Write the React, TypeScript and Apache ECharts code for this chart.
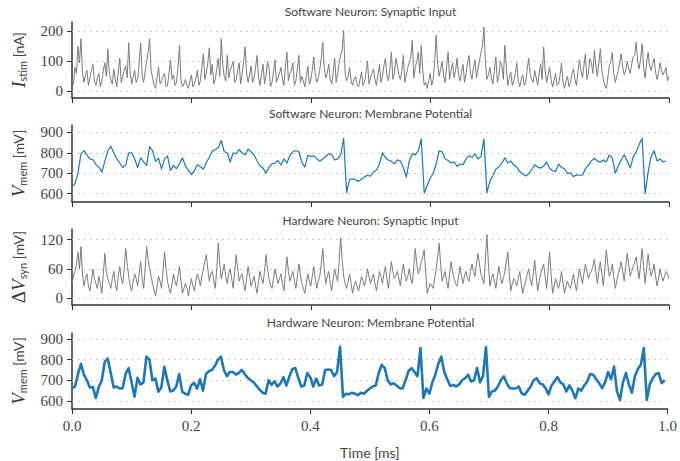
import React, { useEffect, useRef } from 'react';
import * as echarts from 'echarts';

const TIME_STEP = 0.005; // ms between samples (mid arrays sit half a step later)

const titles = [
  'Software Neuron: Synaptic Input',
  'Software Neuron: Membrane Potential',
  'Hardware Neuron: Synaptic Input',
  'Hardware Neuron: Membrane Potential',
];

const stimTicks = [0, 100, 200];
const vmemTicks = [600, 700, 800, 900];
const synTicks = [0, 60, 120];

// Software neuron synaptic input current [nA]
const swInput = [
  40, 80, 150, 175, 30, 70, 45, 90, 20, 60, 35, 95, 142, 40, 75, 15, 110, 50, 85, 162,
  25, 70, 40, 162, 30, 100, 175, 45, 10, 80, 35, 60, 20, 105, 55, 30, 153, 15, 40, 10,
  55, 25, 70, 35, 125, 60, 145, 90, 40, 110, 175, 50, 120, 70, 100, 40, 95, 60, 148, 30,
  85, 45, 120, 20, 90, 55, 75, 30, 105, 45, 80, 20, 130, 60, 95, 35, 120, 50, 15, 85,
  40, 115, 30, 70, 164, 45, 90, 25, 110, 60, 120, 203, 35, 80, 20, 50, 15, 65, 30, 100,
  45, 75, 20, 90, 50, 110, 35, 130, 60, 85, 40, 120, 55, 95, 170, 80, 130, 153, 20, 10,
  60, 40, 187, 50, 100, 30, 130, 70, 45, 110, 35, 90, 60, 120, 40, 105, 75, 130, 214, 40,
  80, 25, 115, 50, 85, 153, 20, 65, 35, 95, 15, 55, 30, 110, 40, 70, 20, 90, 148, 30,
  80, 15, 60, 25, 95, 10, 50, 30, 75, 20, 105, 45, 125, 60, 95, 137, 50, 142, 40, 10,
  85, 130, 30, 70, 125, 55, 100, 60, 115, 164, 75, 159, 45, 130, 70, 110, 40, 95, 55, 80,
  50,
];
const swInputMid = [
  25, 60, 95, 60, 55, 20, 70, 35, 45, 15, 70, 50, 60, 25, 40, 65, 30, 70, 45, 60,
  50, 30, 95, 55, 65, 130, 70, 20, 45, 25, 50, 15, 60, 40, 20, 80, 40, 25, 20, 35,
  15, 45, 20, 80, 40, 95, 55, 25, 75, 50, 90, 35, 45, 85, 30, 70, 25, 100, 60, 55,
  30, 80, 45, 60, 25, 100, 15, 65, 30, 60, 40, 85, 35, 70, 20, 75, 30, 35, 50, 25,
  70, 55, 45, 110, 80, 60, 40, 65, 30, 95, 140, 60, 50, 35, 40, 25, 40, 20, 60, 25,
  60, 40, 55, 30, 85, 55, 75, 40, 110, 55, 70, 30, 80, 115, 45, 100, 60, 70, 30, 35,
  20, 100, 90, 75, 50, 85, 40, 95, 70, 55, 65, 30, 95, 60, 80, 45, 100, 150, 95, 55,
  45, 70, 30, 100, 40, 80, 45, 20, 60, 35, 40, 20, 75, 55, 30, 45, 60, 40, 70, 55,
  40, 35, 20, 55, 30, 35, 15, 60, 40, 65, 70, 85, 40, 110, 60, 85, 95, 70, 20, 45,
  100, 60, 50, 95, 80, 70, 75, 90, 120, 100, 110, 80, 95, 85, 90, 65, 60, 70, 65, 35,
];

// Software neuron membrane potential [mV]
const swVmem = [
  633, 649, 700, 795, 811, 790, 770, 766, 743, 731, 705, 758, 810, 831, 800, 770, 750, 728, 740, 800,
  800, 770, 728, 775, 755, 738, 830, 810, 758, 773, 720, 770, 785, 714, 738, 722, 746, 775, 735, 714,
  694, 712, 741, 732, 720, 752, 778, 808, 816, 825, 860, 805, 800, 755, 800, 795, 815, 800, 790, 818,
  805, 790, 760, 735, 725, 700, 730, 746, 750, 762, 740, 770, 750, 787, 805, 811, 805, 754, 730, 787,
  782, 785, 770, 760, 770, 782, 795, 790, 765, 770, 790, 871, 605, 670, 672, 668, 660, 672, 682, 690,
  685, 706, 716, 745, 800, 775, 765, 758, 746, 765, 760, 728, 681, 760, 795, 790, 810, 868, 603, 640,
  675, 700, 745, 810, 805, 770, 762, 750, 756, 733, 745, 742, 770, 785, 778, 795, 770, 780, 868, 605,
  660, 689, 720, 730, 750, 775, 750, 760, 740, 730, 708, 697, 686, 697, 718, 741, 730, 725, 735, 755,
  725, 712, 708, 744, 728, 722, 698, 702, 683, 692, 690, 690, 722, 738, 760, 773, 760, 754, 765, 755,
  790, 775, 700, 735, 765, 790, 760, 725, 780, 805, 840, 871, 600, 705, 780, 810, 760, 770, 755, 760,
];

// Hardware neuron synaptic input [mV]
const hwInput = [
  30, 55, 95, 106, 25, 50, 15, 60, 30, 45, 10, 92, 40, 20, 55, 15, 65, 30, 102, 45,
  15, 50, 25, 75, 20, 106, 60, 30, 5, 45, 20, 95, 35, 10, 50, 25, 65, 10, 30, 5,
  40, 15, 50, 25, 60, 89, 35, 55, 20, 113, 40, 70, 30, 60, 20, 89, 35, 50, 15, 65,
  25, 45, 10, 55, 30, 89, 40, 20, 60, 30, 50, 15, 85, 35, 55, 20, 70, 30, 10, 50,
  25, 65, 20, 45, 102, 30, 55, 15, 60, 35, 124, 45, 20, 50, 10, 35, 15, 45, 25, 60,
  30, 50, 15, 55, 30, 65, 20, 75, 40, 55, 25, 70, 35, 60, 30, 102, 50, 75, 99, 10,
  30, 20, 60, 113, 35, 55, 20, 75, 40, 25, 65, 30, 55, 35, 70, 45, 92, 50, 30, 131,
  25, 50, 20, 65, 30, 55, 95, 15, 40, 25, 55, 10, 35, 60, 25, 78, 15, 50, 70, 20,
  95, 10, 40, 20, 55, 10, 35, 20, 50, 15, 60, 30, 70, 40, 55, 80, 30, 75, 25, 99,
  45, 70, 20, 50, 75, 35, 92, 45, 65, 85, 40, 102, 30, 90, 45, 70, 25, 60, 35, 55,
  40,
];
const hwInputMid = [
  45, 70, 60, 50, 40, 25, 35, 40, 20, 30, 50, 55, 30, 40, 30, 45, 40, 60, 70, 25,
  35, 40, 50, 40, 60, 80, 45, 15, 25, 35, 55, 60, 20, 30, 35, 45, 35, 20, 20, 25,
  25, 35, 40, 45, 75, 60, 50, 35, 60, 70, 55, 45, 50, 40, 55, 60, 45, 30, 40, 45,
  35, 25, 35, 40, 55, 60, 25, 40, 45, 40, 30, 50, 55, 45, 35, 45, 50, 20, 30, 35,
  45, 40, 35, 70, 60, 45, 30, 40, 45, 75, 80, 30, 35, 30, 25, 25, 30, 35, 40, 45,
  40, 30, 35, 45, 50, 40, 50, 55, 45, 40, 50, 50, 45, 40, 65, 70, 60, 85, 50, 20,
  25, 40, 85, 70, 45, 35, 50, 55, 30, 45, 45, 45, 40, 55, 55, 70, 70, 40, 80, 70,
  40, 35, 45, 45, 40, 75, 50, 30, 35, 40, 30, 25, 50, 40, 50, 45, 35, 60, 45, 55,
  50, 25, 30, 35, 30, 25, 25, 35, 30, 40, 45, 50, 55, 50, 65, 55, 55, 50, 60, 70,
  55, 45, 35, 60, 55, 65, 70, 55, 75, 60, 70, 65, 60, 65, 55, 45, 40, 45, 45, 50,
];

// Hardware neuron membrane potential [mV]
const hwVmem = [
  660, 670, 730, 780, 727, 700, 665, 668, 615, 668, 700, 790, 805, 735, 665, 670, 660, 662, 730, 759,
  690, 621, 712, 680, 690, 815, 800, 700, 708, 645, 665, 765, 700, 646, 650, 670, 730, 645, 635, 630,
  675, 688, 660, 705, 650, 730, 745, 750, 770, 800, 815, 750, 720, 740, 740, 728, 735, 750, 730, 712,
  700, 690, 672, 655, 640, 635, 700, 678, 695, 670, 685, 715, 675, 719, 755, 759, 710, 670, 675, 735,
  715, 670, 708, 675, 680, 750, 752, 750, 720, 740, 862, 620, 635, 632, 640, 635, 628, 640, 635, 648,
  660, 670, 675, 735, 775, 760, 700, 680, 686, 675, 662, 660, 700, 745, 759, 740, 720, 856, 615, 660,
  635, 690, 727, 780, 815, 740, 705, 672, 678, 670, 680, 700, 710, 727, 694, 700, 759, 690, 720, 860,
  620, 646, 650, 670, 700, 719, 685, 662, 660, 660, 670, 637, 630, 650, 670, 700, 710, 686, 680, 662,
  632, 675, 694, 715, 690, 680, 646, 675, 650, 613, 660, 650, 675, 694, 730, 727, 706, 686, 662, 690,
  740, 705, 767, 646, 605, 690, 735, 680, 640, 720, 755, 775, 856, 605, 680, 710, 730, 735, 686, 700,
];

const withTime = (values: number[], mid?: number[]) => {
  const out: number[][] = [];
  values.forEach((v, i) => {
    out.push([Math.round(i * TIME_STEP * 10000) / 10000, v]);
    if (mid && i < mid.length) out.push([Math.round((i + 0.5) * TIME_STEP * 10000) / 10000, mid[i]]);
  });
  return out;
};

const GRAY = '#7b7b7b';
const BLUE = '#1f77b4';
const AXIS = '#333333';
const TEXT = '#444444';
const SANS = 'Lato, "Open Sans", sans-serif';
const SERIF = '"Liberation Serif", "DejaVu Serif", serif';

const panels = [
  { top: 22, height: 76, min: -22, max: 231, ticks: stimTicks, data: withTime(swInput, swInputMid), color: GRAY, width: 1,
    name: '{it|I}{sub|stim}{u| [nA]}' },
  { top: 125, height: 77, min: 559, max: 936, ticks: vmemTicks, data: withTime(swVmem), color: BLUE, width: 1.2,
    name: '{it|V}{sub|mem}{u| [mV]}' },
  { top: 229, height: 76, min: -14, max: 142, ticks: synTicks, data: withTime(hwInput, hwInputMid), color: GRAY, width: 1,
    name: '{up|Δ}{it|V}{sub|syn}{u| [mV]}' },
  { top: 333, height: 76, min: 561, max: 929, ticks: vmemTicks, data: withTime(hwVmem), color: BLUE, width: 2.6,
    name: '{it|V}{sub|mem}{u| [mV]}' },
];

const titleY = [11, 113, 220, 322];

const rich = {
  it: { fontFamily: SERIF, fontStyle: 'italic', fontSize: 19, color: AXIS },
  up: { fontFamily: SERIF, fontSize: 19, color: AXIS },
  sub: { fontFamily: SANS, fontSize: 11, color: TEXT, verticalAlign: 'bottom', lineHeight: 11 },
  u: { fontFamily: SANS, fontSize: 14, color: TEXT },
};

export default function App() {
  const ref = useRef<HTMLDivElement>(null);
  useEffect(() => {
    document.body.style.margin = '0';
    if (!ref.current) return;
    const chart = echarts.init(ref.current, undefined, { renderer: 'svg' });
    const last = panels.length - 1;
    chart.setOption({
      animation: false,
      backgroundColor: '#ffffff',
      grid: panels.map((p) => ({ left: 72, right: 11, top: p.top, height: p.height })),
      xAxis: panels.map((p, k) => ({
        gridIndex: k,
        type: 'value',
        min: 0,
        max: 1,
        interval: 0.2,
        axisLine: { show: true, onZero: false, lineStyle: { color: AXIS, width: 1.5 } },
        axisTick: { show: true, length: 5, lineStyle: { color: AXIS, width: 1 } },
        axisLabel: {
          show: k === last,
          margin: 9,
          formatter: (v: number) => v.toFixed(1),
          fontFamily: SERIF,
          fontSize: 15,
          color: TEXT,
        },
        splitLine: { show: false },
        name: k === last ? 'Time [ms]' : '',
        nameLocation: 'middle',
        nameGap: 36,
        nameTextStyle: { fontFamily: SANS, fontSize: 14, color: TEXT },
      })),
      yAxis: panels.map((p, k) => ({
        gridIndex: k,
        type: 'value',
        min: p.min,
        max: p.max,
        axisLine: { show: true, onZero: false, lineStyle: { color: AXIS, width: 1.5 } },
        axisTick: { show: true, length: 5, customValues: p.ticks, lineStyle: { color: AXIS, width: 1 } },
        axisLabel: {
          customValues: p.ticks,
          margin: 9,
          fontFamily: SERIF,
          fontSize: 15,
          color: TEXT,
        },
        splitLine: { show: false },
        name: p.name,
        nameLocation: 'middle',
        nameRotate: 90,
        nameGap: 44,
        nameTextStyle: { rich },
      })),
      series: panels.map((p, k) => ({
        type: 'line',
        xAxisIndex: k,
        yAxisIndex: k,
        data: p.data,
        showSymbol: false,
        symbol: 'none',
        silent: true,
        z: 3,
        lineStyle: { color: p.color, width: p.width, join: 'round' },
        markLine: {
          silent: true,
          symbol: 'none',
          z: 1,
          label: { show: false },
          lineStyle: { color: '#bbbbbb', width: 1, type: [1.5, 4.5] },
          data: p.ticks.map((t) => ({ yAxis: t })),
        },
      })),
      graphic: titles.map((t, k) => ({
        type: 'text',
        x: 370.5,
        y: titleY[k],
        style: {
          text: t,
          font: `12px ${SANS}`,
          fill: TEXT,
          align: 'center',
          verticalAlign: 'middle',
          textAlign: 'center',
          textVerticalAlign: 'middle',
        },
      })),
    });
    return () => chart.dispose();
  }, []);
  return <div ref={ref} style={{ width: 680, height: 461 }} />;
}
